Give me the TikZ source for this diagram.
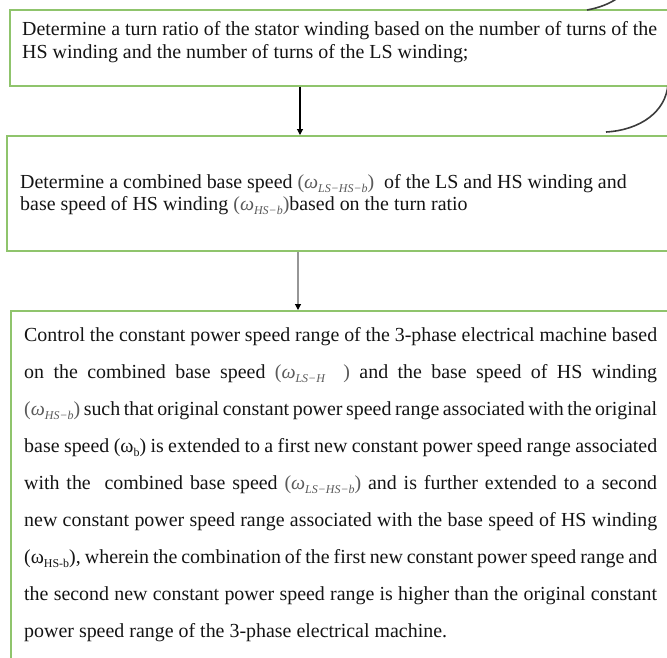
\documentclass[tikz,border=0pt]{standalone}
\usepackage{fontspec}
\setmainfont{Liberation Serif}
\usepackage{graphicx}
\usetikzlibrary{arrows.meta}
\definecolor{boxgreen}{RGB}{143,196,108}
\definecolor{mathgray}{RGB}{90,90,90}
\definecolor{curvegray}{RGB}{60,60,60}
\definecolor{textblack}{RGB}{20,20,20}
\definecolor{arrgray}{RGB}{150,150,150}
\newlength\refw
\newcommand\fsz{18}
\AtBeginDocument{%
  \settowidth\refw{\fontsize{10pt}{12pt}\selectfont Determine a turn ratio of the stator winding based on the number of turns of the}%
  \pgfmathsetmacro\fszcalc{10*635/\refw}%
  \xdef\fsz{\fszcalc}%
}
\newcommand\bfnt{\fontsize{\fsz pt}{\fsz pt}\selectfont}
\newcommand\wpar[1]{\textcolor{mathgray}{(\textit{ω}\raisebox{-0.45ex}{\scalebox{0.6}{\textit{#1}}})}}
\newcommand\wplain[1]{(ω\raisebox{-0.4ex}{\scalebox{0.6}{#1}})}
\newcommand\jline[1]{\hbox to 633pt{#1}}
\begin{document}
\begin{tikzpicture}[x=1pt,y=-1pt,
  gbox/.style={draw=boxgreen, line width=1.6pt, rectangle, inner sep=0pt, anchor=north west},
  txt/.style={anchor=base west, inner sep=0pt, text=textblack, font=\bfnt},
  arr/.style={line width=1.1pt, -{Triangle[length=6pt,width=6pt,color=black]}},
  curve/.style={draw=curvegray, line width=1.6pt}
]
\useasboundingbox (0,0) rectangle (667,657);
\clip (0,0) rectangle (667,657);

% boxes
\node[gbox, minimum width=700pt, minimum height=76pt] (b1) at (9,9) {};
\node[gbox, minimum width=700pt, minimum height=115pt] (b2) at (6,135) {};
\node[gbox, minimum width=700pt, minimum height=420pt] (b3) at (10,310) {};

% box 1 text
\node[txt] (t1a) at (22,35.5) {Determine a turn ratio of the stator winding based on the number of turns of the};
\node[txt] (t1b) at (22,58.5) {HS winding and the number of turns of the LS winding;};

% box 2 text
\node[txt] (t2a) at (20,188.5) {Determine a combined base speed \wpar{LS−HS−b}\ \ of the LS and HS winding and};
\node[txt] (t2b) at (20,210.5) {base speed of HS winding \wpar{HS−b}based on the turn ratio};

% box 3 text
\node[txt] (t3a) at (24,341.5) {\jline{Control the constant power speed range of the 3-phase electrical machine based}};
\node[txt] (t3b) at (24,378.5) {\jline{on the combined base speed \textcolor{mathgray}{(\textit{ω}\raisebox{-0.45ex}{\scalebox{0.6}{\textit{LS−H}}}\hspace{0.9em})} and the base speed of HS winding}};
\node[txt] (t3c) at (24,415.5) {\jline{\wpar{HS−b} such that original constant power speed range associated with the original}};
\node[txt] (t3d) at (24,452.5) {\jline{base speed \wplain{b} is extended to a first new constant power speed range associated}};
\node[txt] (t3e) at (24,489.5) {\jline{with the\ \ combined base speed \wpar{LS−HS−b} and is further extended to a second}};
\node[txt] (t3f) at (24,526.5) {\jline{new constant power speed range associated with the base speed of HS winding}};
\node[txt] (t3g) at (24,563.5) {\jline{\wplain{HS-b}, wherein the combination of the first new constant power speed range and}};
\node[txt] (t3h) at (24,600.5) {\jline{the second new constant power speed range is higher than the original constant}};
\node[txt] (t3i) at (24,637.5) {power speed range of the 3-phase electrical machine.};

% arrows
\coordinate (ax1) at (300,0);
\coordinate (ax2) at (298,0);
\draw[arr, draw=black] (ax1 |- b1.south) -- (ax1 |- b2.north);
\draw[arr, draw=arrgray] (ax2 |- b2.south) -- (ax2 |- b3.north);

% partial curves at the right
\coordinate (c1s) at (587,10);
\coordinate (c1e) at (619,-3);
\draw[curve] (c1s) .. controls (598,8) and (610,4) .. (c1e);
\coordinate (c2s) at (668,84);
\coordinate (c2e) at (606,132);
\draw[curve] (c2s) .. controls (666,112) and (640,130) .. (c2e);
\end{tikzpicture}
\end{document}
